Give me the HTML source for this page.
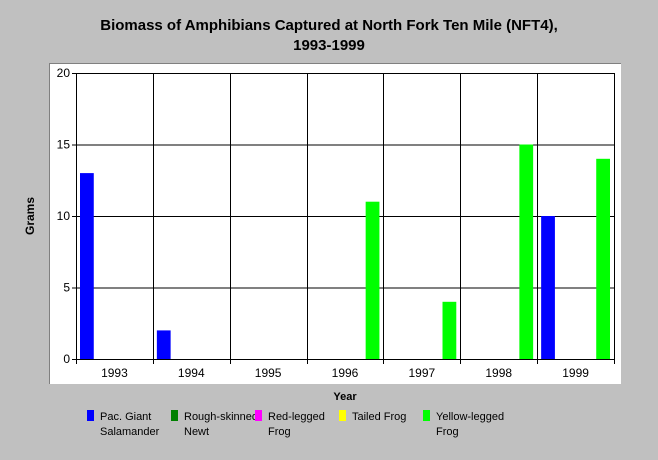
<!DOCTYPE html>
<html><head><meta charset="utf-8"><style>
body{margin:0;background:#c0c0c0;width:658px;height:455px;overflow:hidden;font-family:"Liberation Sans",sans-serif}
</style></head><body>
<svg width="658" height="455" xmlns="http://www.w3.org/2000/svg" font-family="Liberation Sans, sans-serif">
<text x="329" y="30" text-anchor="middle" font-size="15" font-weight="bold">Biomass of Amphibians Captured at North Fork Ten Mile (NFT4),</text>
<text x="329" y="50" text-anchor="middle" font-size="15" font-weight="bold">1993-1999</text>
<rect x="49" y="63" width="572" height="321" fill="#fff"/>
<path d="M49.5 384V63.5H621" stroke="#808080" fill="none"/>
<g id="grid"></g>
<g id="bars"></g>
<g id="ticks" font-size="12"></g>
<text transform="translate(34,216) rotate(-90)" text-anchor="middle" font-size="12" font-weight="bold">Grams</text>
<text x="345" y="400" text-anchor="middle" font-size="11" font-weight="bold">Year</text>
<g id="legend" font-size="11"></g>
</svg>
<script>
const categories=["1993","1994","1995","1996","1997","1998","1999"];
const seriesNames=[["Pac. Giant","Salamander"],["Rough-skinned","Newt"],["Red-legged","Frog"],["Tailed Frog",""],["Yellow-legged","Frog"]];
const seriesColors=["#0000ff","#008000","#ff00ff","#ffff00","#00ff00"];
const pacGiant=[13,2,0,0,0,0,10];
const roughNewt=[0,0,0,0,0,0,0];
const redLegged=[0,0,0,0,0,0,0];
const tailedFrog=[0,0,0,0,0,0,0];
const yellowLegged=[0,0,0,11,4,15,14];
const yTicks=[0,5,10,15,20];
const series=[pacGiant,roughNewt,redLegged,tailedFrog,yellowLegged];
const NS="http://www.w3.org/2000/svg";
const L=76,R=614,T=73,B=359,yMax=20;
const cw=(R-L)/categories.length;
const y=v=>B-(v/yMax)*(B-T);
function mk(tag,attrs,parent,txt){const e=document.createElementNS(NS,tag);for(const k in attrs)e.setAttribute(k,attrs[k]);if(txt!==undefined)e.textContent=txt;document.getElementById(parent).appendChild(e);return e;}
yTicks.forEach(t=>{
 const l=mk('line',{x1:L-4,x2:R,y1:y(t)+0.5,y2:y(t)+0.5,stroke:'#000'},'grid');
 
 
 const tx=mk('text',{x:L-6,y:y(t)+4,'text-anchor':'end'},'ticks',t);
 
 
});
for(let i=0;i<=categories.length;i++){
 const x=Math.round(L+i*cw)+0.5;
 const l=mk('line',{x1:x,x2:x,y1:T,y2:B+5,stroke:'#000'},'grid');
 
 
}
const bw=(cw-8)/5;
categories.forEach((c,i)=>{
 const tx=mk('text',{x:L+i*cw+cw/2,y:B+18,'text-anchor':'middle'},'ticks',c);
 
 
 series.forEach((s,j)=>{
  if(s[i]<=0)return;
  const r=mk('rect',{x:L+i*cw+4+j*bw,y:y(s[i]),width:bw,height:B-y(s[i]),fill:seriesColors[j]},'bars');
  
  
 });
});
seriesNames.forEach((n,j)=>{
 const x=87+j*84;
 const r=mk('rect',{x:x,y:410,width:7,height:11,fill:seriesColors[j]},'legend');
 
 
 const t1=mk('text',{x:x+13,y:420},'legend',n[0]);
 
 
 if(n[1]){const t2=mk('text',{x:x+13,y:435},'legend',n[1]);
 
 }
});
</script>
</body></html>
